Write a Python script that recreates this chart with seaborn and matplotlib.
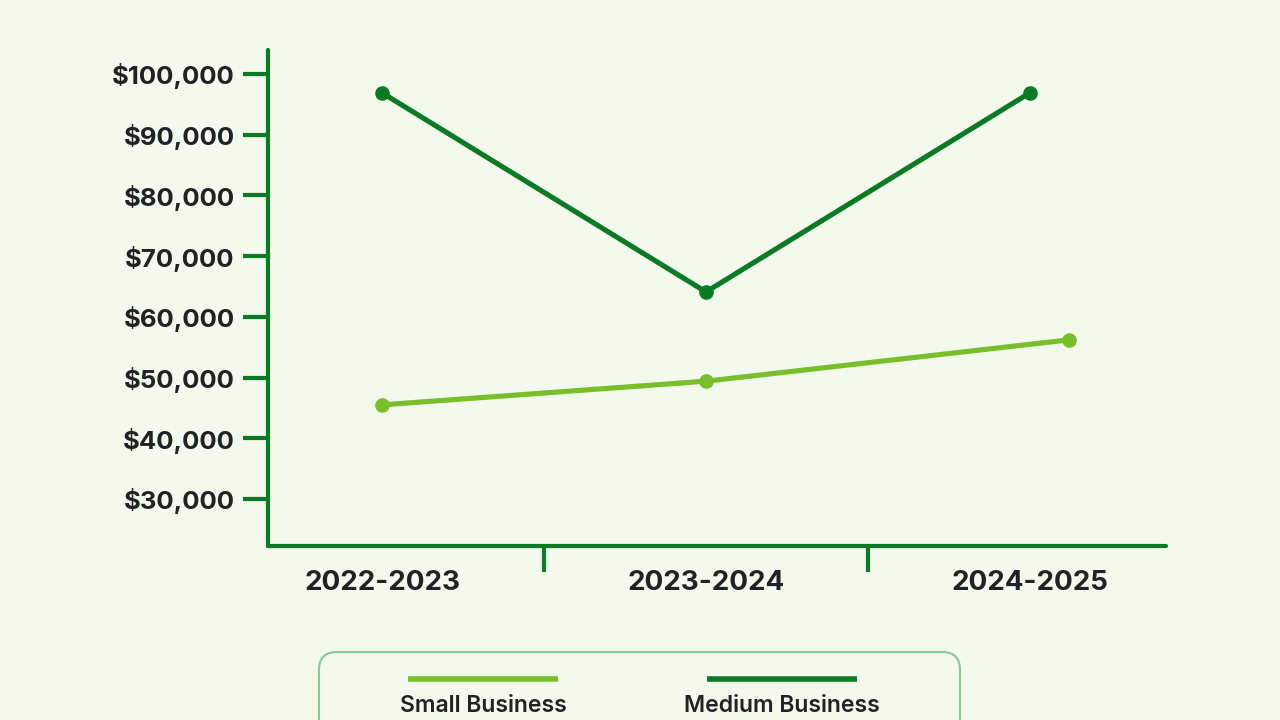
import matplotlib
matplotlib.use("Agg")
import matplotlib.pyplot as plt
from matplotlib.patches import FancyBboxPatch
from matplotlib.lines import Line2D
from matplotlib.ticker import FuncFormatter
import seaborn as sns
import pandas as pd

# ---- data ----
categories = ["2022-2023", "2023-2024", "2024-2025"]
small_pos = [0.0, 1.0, 2.12]
medium_pos = [0.0, 1.0, 2.0]
small_values = [45500, 49400, 56200]
medium_values = [96900, 64100, 96900]
series_names = ["Small Business", "Medium Business"]
y_ticks = [30000, 40000, 50000, 60000, 70000, 80000, 90000, 100000]

# ---- style ----
BG = "#f3f9ec"
DARK = "#0b7a25"
LIGHT = "#79bf2a"
TEXT = "#222222"

sns.set_theme(style="white")
plt.rcParams["font.family"] = ["Inter", "DejaVu Sans"]

fig = plt.figure(figsize=(12.8, 7.2), dpi=100, facecolor=BG)
ax = fig.add_axes([268/1280, 1 - 546/720, (1166-268)/1280, (546-50)/720])
ax.set_facecolor(BG)

df_small = pd.DataFrame({"x": small_pos, "y": small_values})
df_med = pd.DataFrame({"x": medium_pos, "y": medium_values})

sns.lineplot(data=df_small, x="x", y="y", ax=ax, color=LIGHT, linewidth=3.7,
             marker="o", markersize=10.5, markeredgewidth=0, solid_capstyle="round")
sns.lineplot(data=df_med, x="x", y="y", ax=ax, color=DARK, linewidth=3.7,
             marker="o", markersize=10.5, markeredgewidth=0, solid_capstyle="round")

ax.set_xlim(-0.352, 2.42)
ax.set_ylim(22250, 103950)

for s in ["top", "right"]:
    ax.spines[s].set_visible(False)
for s in ["left", "bottom"]:
    ax.spines[s].set_color(DARK)
    ax.spines[s].set_linewidth(3)
    ax.spines[s].set_capstyle("round")

ax.set_yticks(y_ticks)
ax.yaxis.set_major_formatter(FuncFormatter(lambda v, p: f"${v:,.0f}"))
ax.tick_params(axis="y", length=18, width=3, color=DARK, pad=6,
               labelsize=18.5, labelcolor=TEXT, left=True)
for lbl in ax.get_yticklabels():
    lbl.set_fontweight("bold")

ax.set_xticks([0.5, 1.5])
ax.set_xticklabels(["", ""])
ax.set_xticks([0, 1, 2], minor=True)
ax.set_xticklabels(categories, minor=True)
ax.tick_params(axis="x", which="major", length=19, width=3, color=DARK, bottom=True)
ax.tick_params(axis="x", which="minor", length=0, pad=17, labelsize=20, labelcolor=TEXT)
for lbl in ax.get_xticklabels(minor=True):
    lbl.set_fontweight("bold")

ax.set_xlabel("")
ax.set_ylabel("")
ax.grid(False)

# ---- custom legend ----
ov = fig.add_axes([0, 0, 1, 1], facecolor="none")
ov.set_xlim(0, 1280)
ov.set_ylim(720, 0)
ov.axis("off")
box = FancyBboxPatch((319, 652), 641, 120, boxstyle="round,pad=0,rounding_size=18",
                     facecolor="none", edgecolor="#8cc79a", linewidth=1.5)
ov.add_patch(box)
for cx, col, name in [(483, LIGHT, series_names[0]), (782, DARK, series_names[1])]:
    ov.add_line(Line2D([cx - 75, cx + 75], [679, 679], color=col, linewidth=4,
                       solid_capstyle="butt"))
    ov.text(cx, 706, name, ha="center", va="center", fontsize=16.5,
            fontweight="semibold", color=TEXT)

fig.savefig("out.png", dpi=100, facecolor=BG)
